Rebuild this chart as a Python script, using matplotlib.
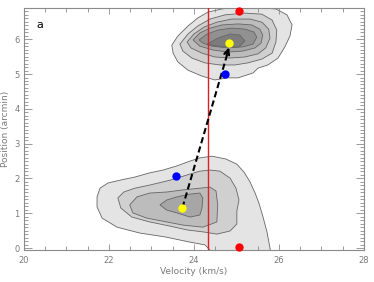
import matplotlib
matplotlib.use('Agg')
import matplotlib.pyplot as plt
from matplotlib.ticker import MultipleLocator

# contour outlines, (velocity km/s, position arcmin), outer -> inner
top_contours = [
    [(23.48, 5.83), (23.62, 6.09), (23.86, 6.38), (24.09, 6.61), (24.33, 6.78), (24.66, 6.87),
     (25.08, 6.93), (25.60, 6.90), (25.93, 6.87), (26.19, 6.70), (26.31, 6.41), (26.26, 6.09),
     (26.14, 5.78), (25.98, 5.46), (25.74, 5.26), (25.51, 5.17), (25.39, 5.03), (25.04, 4.89),
     (24.80, 4.89), (24.49, 4.83), (24.19, 4.94), (23.86, 5.11), (23.62, 5.35), (23.51, 5.60)],
    [(23.67, 5.86), (23.86, 6.15), (24.09, 6.38), (24.38, 6.58), (24.73, 6.70), (25.20, 6.75),
     (25.60, 6.72), (25.84, 6.55), (25.95, 6.26), (25.93, 5.92), (25.84, 5.60), (25.60, 5.43),
     (25.27, 5.32), (24.96, 5.26), (24.61, 5.26), (24.26, 5.32), (23.95, 5.46), (23.74, 5.66)],
    [(23.84, 5.92), (24.00, 6.15), (24.24, 6.35), (24.54, 6.49), (24.89, 6.58), (25.32, 6.58),
     (25.60, 6.49), (25.76, 6.29), (25.79, 6.03), (25.69, 5.75), (25.51, 5.58), (25.20, 5.49),
     (24.85, 5.46), (24.49, 5.49), (24.19, 5.60), (23.93, 5.75)],
    [(23.98, 5.98), (24.14, 6.18), (24.38, 6.32), (24.66, 6.41), (25.04, 6.44), (25.36, 6.41),
     (25.55, 6.29), (25.62, 6.12), (25.58, 5.89), (25.44, 5.75), (25.15, 5.66), (24.80, 5.63),
     (24.45, 5.69), (24.14, 5.80)],
    [(24.12, 5.98), (24.31, 6.15), (24.56, 6.26), (24.89, 6.32), (25.20, 6.29), (25.41, 6.21),
     (25.48, 6.06), (25.39, 5.86), (25.15, 5.78), (24.80, 5.75), (24.42, 5.80), (24.21, 5.89)],
    [(24.31, 5.86), (24.56, 6.03), (24.85, 6.15), (25.08, 6.12), (25.20, 5.95), (25.06, 5.78),
     (24.66, 5.78)],
]

bottom_contours = [
    [(21.72, 1.47), (21.79, 1.72), (21.98, 1.87), (22.26, 1.95), (22.61, 2.04), (22.96, 2.16),
     (23.27, 2.24), (23.60, 2.36), (23.91, 2.50), (24.14, 2.59), (24.42, 2.64), (24.75, 2.56),
     (25.01, 2.41), (25.18, 2.18), (25.32, 1.90), (25.44, 1.58), (25.53, 1.29), (25.62, 0.92),
     (25.72, 0.46), (25.79, 0.00), (25.84, -0.40), (24.42, -0.40), (24.38, -0.06), (24.26, 0.09),
     (23.91, 0.17), (23.32, 0.32), (22.73, 0.43), (22.19, 0.60), (21.84, 0.86), (21.72, 1.18)],
    [(22.21, 1.44), (22.35, 1.61), (22.61, 1.72), (22.96, 1.81), (23.44, 1.95), (23.84, 2.10),
     (24.14, 2.21), (24.38, 2.24), (24.61, 2.21), (24.85, 2.01), (24.99, 1.72), (25.06, 1.38),
     (25.01, 1.06), (25.01, 0.69), (24.85, 0.49), (24.54, 0.40), (24.24, 0.46), (23.84, 0.52),
     (23.44, 0.63), (22.96, 0.75), (22.54, 0.89), (22.28, 1.15)],
    [(22.49, 1.24), (22.66, 1.47), (22.96, 1.58), (23.36, 1.61), (23.74, 1.67), (24.14, 1.72),
     (24.38, 1.75), (24.52, 1.64), (24.56, 1.24), (24.54, 0.75), (24.21, 0.60), (23.74, 0.66),
     (23.36, 0.75), (22.89, 0.86), (22.56, 1.01)],
    [(23.20, 1.24), (23.36, 1.38), (23.60, 1.47), (23.91, 1.55), (24.14, 1.58), (24.21, 1.44),
     (24.19, 1.15), (24.14, 0.95), (23.91, 0.89), (23.60, 1.01), (23.36, 1.09)],
]

level_greys = ['#e4e4e4', '#d0d0d0', '#bcbcbc', '#a6a6a6', '#919191', '#7c7c7c']

red_line_v = 24.32

red_v = [25.07, 25.07]
red_y = [6.81, 0.04]
blue_v = [24.74, 23.57]
blue_y = [5.00, 2.07]
yellow_v = [24.82, 23.73]
yellow_y = [5.90, 1.16]

fig = plt.figure(figsize=(3.74, 2.82), dpi=100)
ax = fig.add_axes([0.064, 0.113, 0.909, 0.859])

for contours in (top_contours, bottom_contours):
    for i, poly in enumerate(contours):
        xs = [p[0] for p in poly]
        ys = [p[1] for p in poly]
        ax.fill(xs, ys, facecolor=level_greys[i], edgecolor='#666666', linewidth=0.6, zorder=1 + i * 0.1)

ax.axvline(red_line_v, color='#e02020', linewidth=1.0, zorder=3)

# dashed track between the two centres, head drawn separately
ax.plot([yellow_v[1], yellow_v[0]], [yellow_y[1], yellow_y[0] - 0.18], color='black',
        linestyle=(0, (3, 1.6)), linewidth=1.5, zorder=4)
ax.annotate('', xy=(yellow_v[0], yellow_y[0] - 0.14), xytext=(yellow_v[0] - 0.05, yellow_y[0] - 0.35),
            arrowprops=dict(arrowstyle='->', color='black', lw=1.5, shrinkA=0, shrinkB=0,
                            mutation_scale=9), zorder=4)

ax.plot(red_v, red_y, 'o', color='#ff0000', markersize=6, markeredgewidth=0, zorder=5, clip_on=False)
ax.plot(blue_v, blue_y, 'o', color='#0000ff', markersize=6, markeredgewidth=0, zorder=5)
ax.plot(yellow_v, yellow_y, 'o', color='#ffff00', markersize=6, markeredgewidth=0, zorder=5)

ax.set_xlim(20, 28)
ax.set_ylim(-0.06, 6.9)
ax.xaxis.set_major_locator(MultipleLocator(2))
ax.xaxis.set_minor_locator(MultipleLocator(0.5))
ax.yaxis.set_major_locator(MultipleLocator(1))
ax.yaxis.set_minor_locator(MultipleLocator(0.1))

tick_col = '#8a8a8a'
ax.tick_params(which='both', direction='in', top=True, right=True, colors=tick_col,
               labelsize=6, width=0.6, labelcolor='#7a7a7a')
ax.tick_params(axis='x', which='major', length=4, pad=4)
ax.tick_params(axis='x', which='minor', length=3)
ax.tick_params(axis='y', which='major', length=6, pad=3)
ax.tick_params(axis='y', which='minor', length=3)
for s in ax.spines.values():
    s.set_color(tick_col)
    s.set_linewidth(0.8)

ax.set_xlabel('Velocity (km/s)', fontsize=6.5, color='#7a7a7a', labelpad=2)
ax.set_ylabel('Position (arcmin)', fontsize=6.5, color='#7a7a7a', labelpad=3)
ax.text(20.3, 6.4, 'a', fontsize=8, color='black', va='center', ha='left')

fig.savefig('out.png', dpi=100)
